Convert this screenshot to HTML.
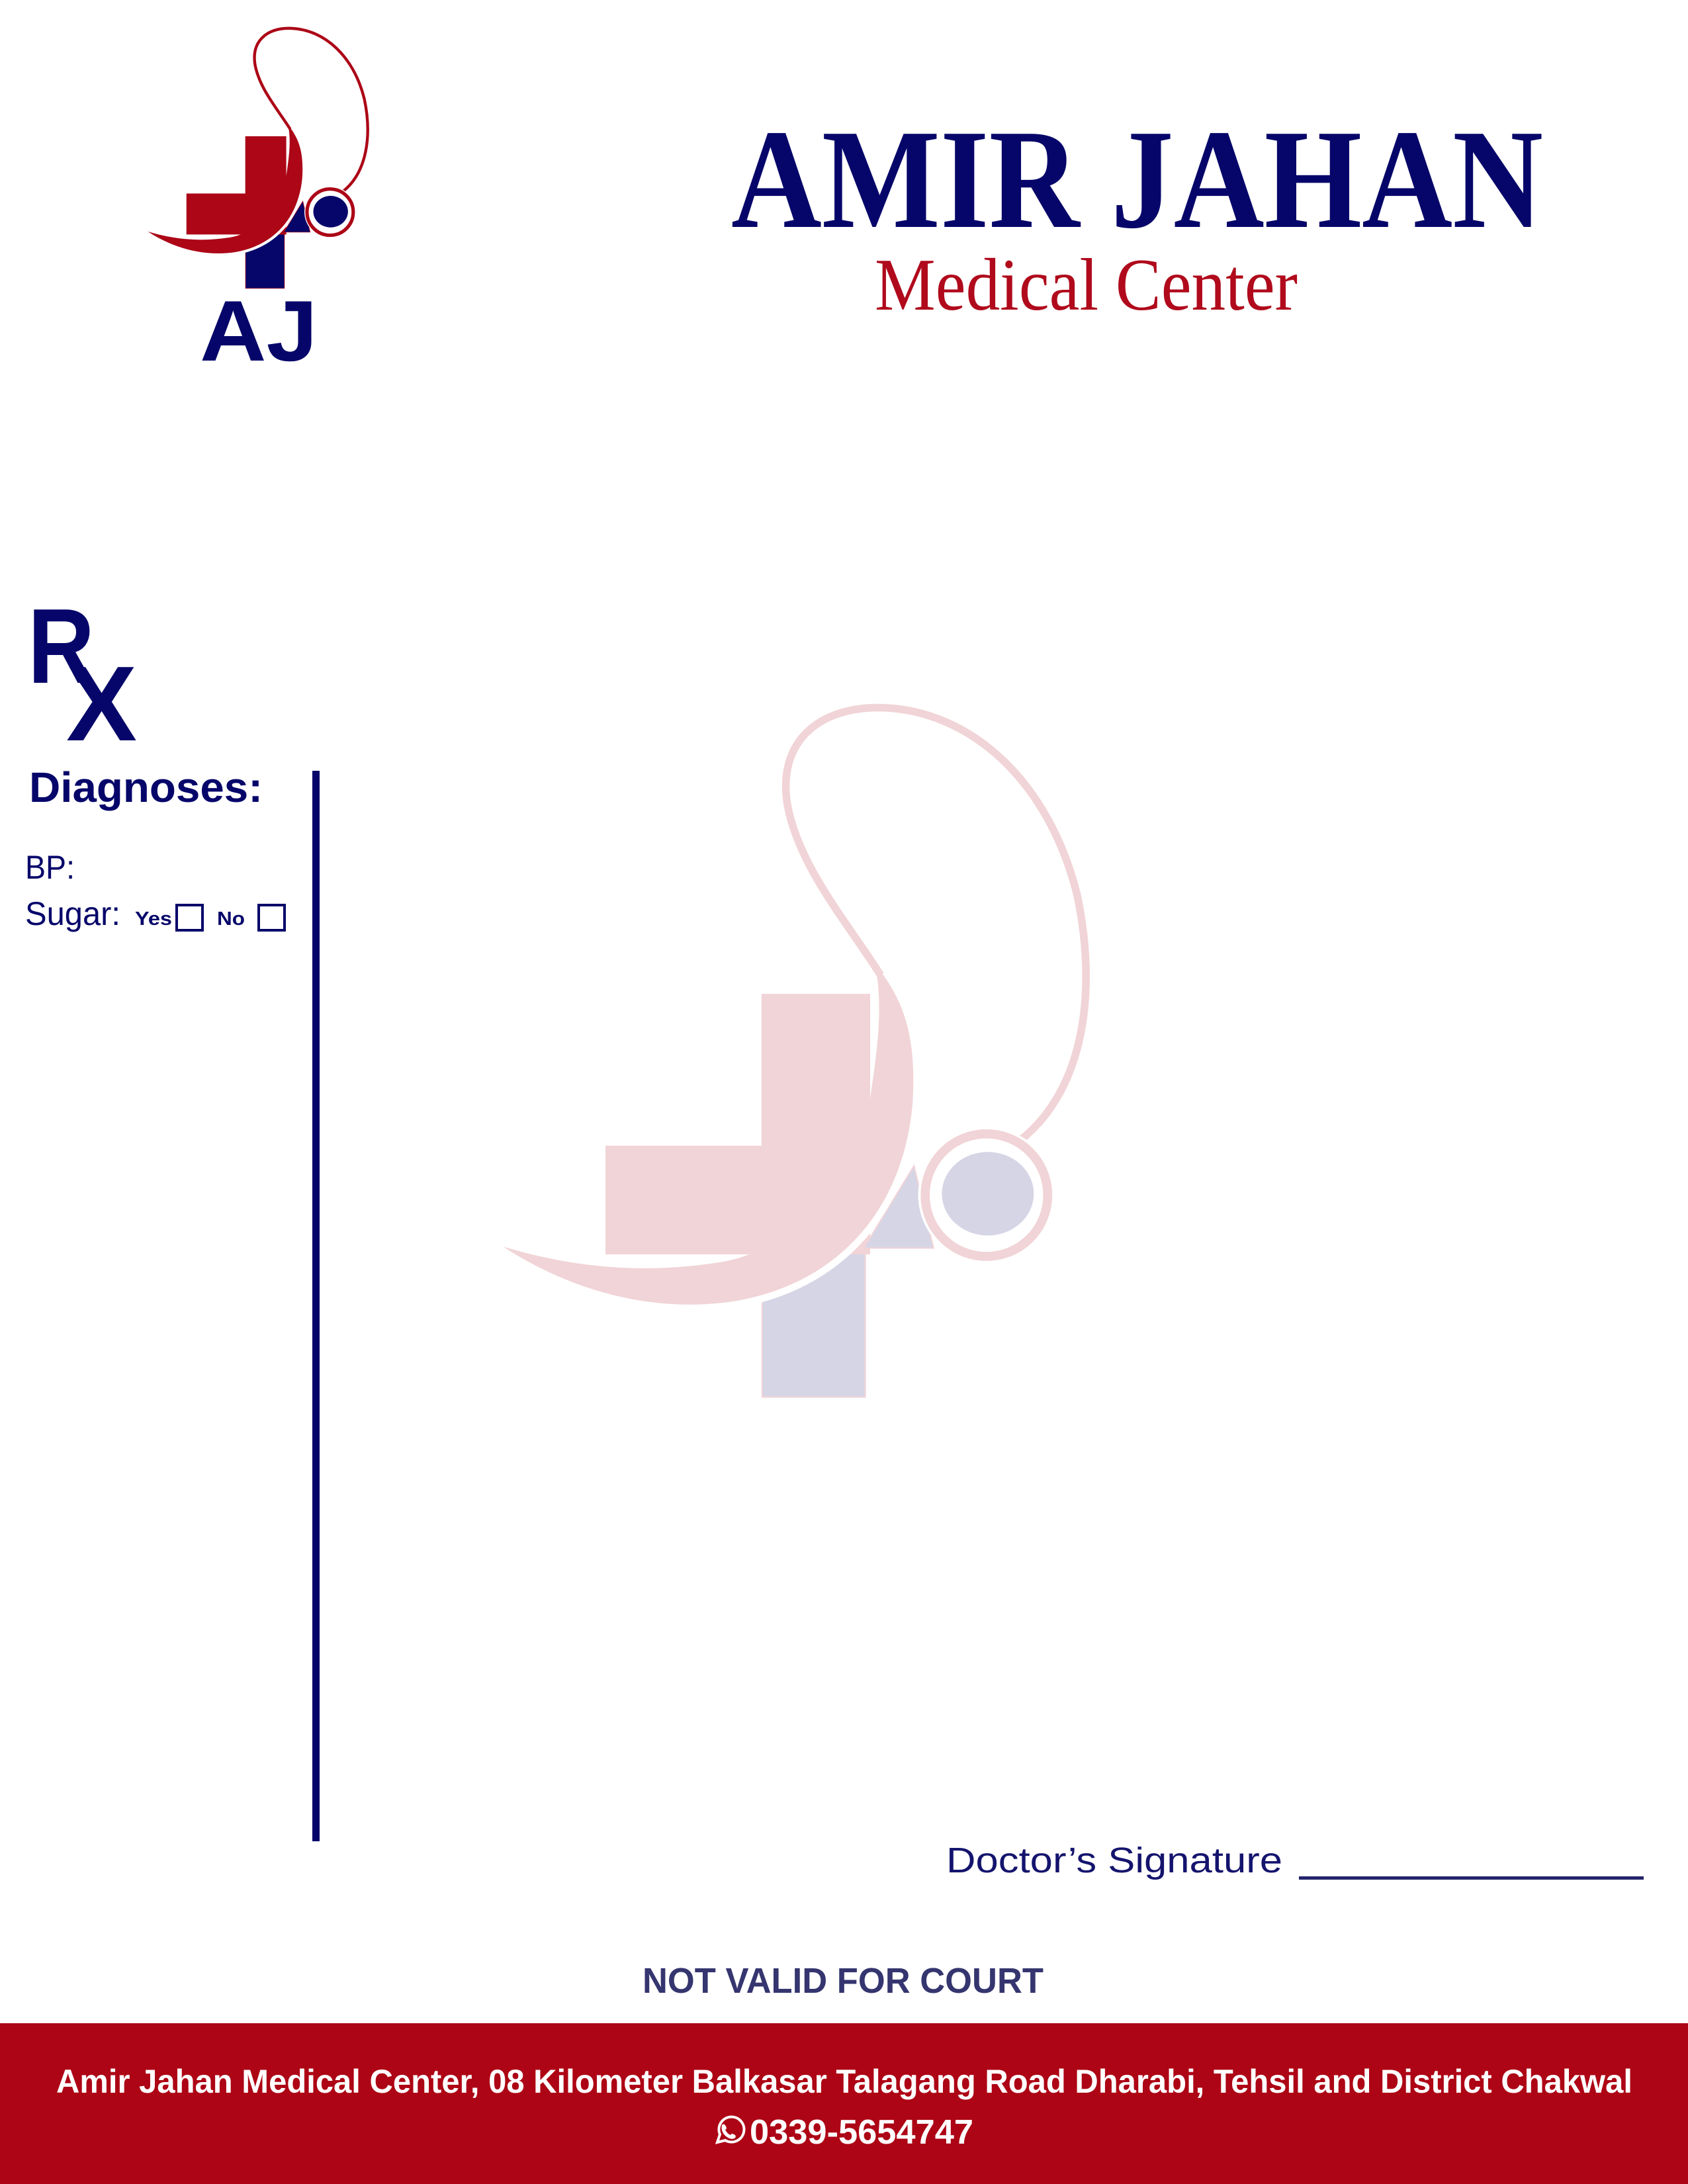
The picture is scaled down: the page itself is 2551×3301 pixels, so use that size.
<!DOCTYPE html>
<html><head><meta charset="utf-8"><style>
html,body{margin:0;padding:0;background:#fff;}
svg{display:block;}
</style></head><body>
<svg width="2551" height="3301" viewBox="0 0 2551 3301" xmlns="http://www.w3.org/2000/svg">
<defs>
<g id="mark">
  <rect x="189" y="380" width="74" height="121" fill="currentColor"/>
  <rect x="189" y="212" width="77" height="186"/>
  <rect x="77" y="321" width="189" height="77"/>
  <polygon points="298,335 312,394 262,394" fill="currentColor"/>
  <path d="M120,440 C130,439 150,436 170,432 C240,420 290,370 297,290 C300,240 290,215 270,190" fill="none" stroke="#fff" stroke-width="10" stroke-linecap="round"/>
  <path d="M3,393 C60,430 120,440 170,432 C240,420 290,370 297,290 C300,240 290,215 270,190 C276,220 272,250 266,290 C255,350 210,395 160,404 C110,412 60,410 3,393 Z" stroke="none"/>
  <path d="M274,198 C250,160 215,120 207,75 C200,30 230,5 275,6 C340,8 395,60 415,140 C430,210 420,280 375,316" fill="none" stroke-width="5.5"/>
  <circle cx="350" cy="356" r="49" fill="#fff" stroke="none"/>
  <circle cx="350" cy="356" r="44" fill="#fff" stroke-width="6.5"/>
  <ellipse cx="351" cy="355" rx="33" ry="30" fill="currentColor" stroke="none"/>
</g>
</defs>

<use href="#mark" transform="translate(221,38) scale(0.794)" fill="#ac0617" stroke="#ac0617" color="#06066a"/>
<text x="302" y="545" font-family="Liberation Sans, sans-serif" font-weight="bold" font-size="130" fill="#06066a" textLength="178" lengthAdjust="spacingAndGlyphs">AJ</text>

<use href="#mark" transform="translate(754,1057) scale(2.105)" fill="#f1d4d7" stroke="#f1d4d7" color="#d5d5e6"/>

<text x="1105" y="343" font-family="Liberation Serif, serif" font-weight="bold" font-size="215" fill="#06066a" textLength="1227" lengthAdjust="spacingAndGlyphs">AMIR JAHAN</text>
<text x="1322" y="468" font-family="Liberation Serif, serif" font-size="112" fill="#b00a1c" textLength="639" lengthAdjust="spacingAndGlyphs">Medical Center</text>

<text x="42" y="1032" font-family="Liberation Sans, sans-serif" font-weight="bold" font-size="161" fill="#06066a" textLength="101" lengthAdjust="spacingAndGlyphs">R</text>
<text x="100" y="1119" font-family="Liberation Sans, sans-serif" font-weight="bold" font-size="161" fill="#06066a" textLength="107" lengthAdjust="spacingAndGlyphs">X</text>

<text x="44" y="1212" font-family="Liberation Sans, sans-serif" font-weight="bold" font-size="64" fill="#06066a" textLength="353" lengthAdjust="spacingAndGlyphs">Diagnoses:</text>
<text x="38" y="1328" font-family="Liberation Sans, sans-serif" font-size="50" fill="#06066a" textLength="75" lengthAdjust="spacingAndGlyphs">BP:</text>
<text x="38" y="1398" font-family="Liberation Sans, sans-serif" font-size="50" fill="#06066a" textLength="144" lengthAdjust="spacingAndGlyphs">Sugar:</text>
<text x="204" y="1398" font-family="Liberation Sans, sans-serif" font-weight="bold" font-size="29" fill="#06066a" textLength="56" lengthAdjust="spacingAndGlyphs">Yes</text>
<rect x="267" y="1368" width="39" height="38" fill="none" stroke="#06066a" stroke-width="4"/>
<text x="328" y="1398" font-family="Liberation Sans, sans-serif" font-weight="bold" font-size="29" fill="#06066a" textLength="42" lengthAdjust="spacingAndGlyphs">No</text>
<rect x="391" y="1368" width="39" height="38" fill="none" stroke="#06066a" stroke-width="4"/>

<rect x="472" y="1165" width="11" height="1618" fill="#06066a"/>

<text x="1430" y="2830" font-family="Liberation Sans, sans-serif" font-size="54" fill="#14146e" textLength="508" lengthAdjust="spacingAndGlyphs">Doctor’s Signature</text>
<rect x="1963" y="2836" width="521" height="5" fill="#25256a"/>

<text x="971" y="3012" font-family="Liberation Sans, sans-serif" font-weight="bold" font-size="54" fill="#35356f" textLength="606" lengthAdjust="spacingAndGlyphs">NOT VALID FOR COURT</text>

<rect x="0" y="3058" width="2551" height="243" fill="#ad0515"/>
<text x="85" y="3163" font-family="Liberation Sans, sans-serif" font-weight="bold" font-size="50" fill="#fff" textLength="2382" lengthAdjust="spacingAndGlyphs">Amir Jahan Medical Center, 08 Kilometer Balkasar Talagang Road  Dharabi, Tehsil and District Chakwal</text>
<g fill="none" stroke="#fff" stroke-width="4">
  <path d="M1084,3238 L1088,3226 A19,19 0 1 1 1096,3235 Z"/>
</g>
<path d="M1091,3212 q2,-3 5,0 l2,4 q0,2 -2,3 q3,6 8,8 q1,-2 3,-2 l4,2 q2,3 -1,5 q-6,3 -14,-4 q-7,-7 -5,-16 z" fill="#fff"/>
<text x="1133" y="3240" font-family="Liberation Sans, sans-serif" font-weight="bold" font-size="52" fill="#fff" textLength="338" lengthAdjust="spacingAndGlyphs">0339-5654747</text>
</svg>
</body></html>
